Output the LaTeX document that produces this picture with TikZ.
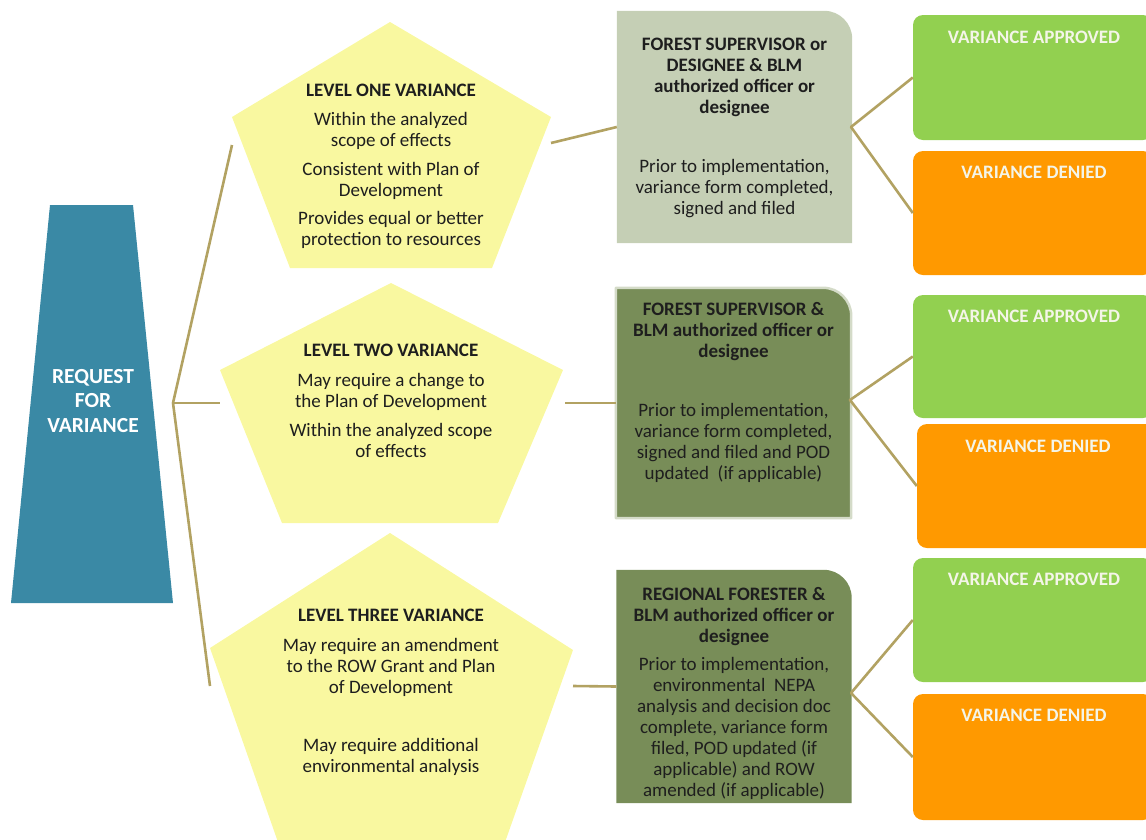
\documentclass[tikz,border=0pt]{standalone}
\usepackage{fontspec}
\setmainfont{Carlito}
\usetikzlibrary{calc}

\definecolor{reqblue}{RGB}{58,137,165}
\definecolor{pentyellow}{RGB}{249,248,160}
\definecolor{sagefill}{RGB}{197,207,181}
\definecolor{olivefill}{RGB}{120,141,88}
\definecolor{oliveedge}{RGB}{212,219,200}
\definecolor{okgreen}{RGB}{146,208,80}
\definecolor{nogo}{RGB}{255,153,0}
\definecolor{linkcol}{RGB}{178,162,98}
\definecolor{inktext}{RGB}{30,30,30}
\definecolor{paletext}{RGB}{244,245,232}

\begin{document}
\begin{tikzpicture}[x=1pt,y=-1pt,line join=round,
  link/.style={draw=linkcol,line width=2.6pt},
  body/.style={align=center,inner sep=0pt,text=inktext,font=\fontsize{19}{21}\selectfont},
  pentxt/.style={body},
  boxtxt/.style={body},
  frame/.style={draw=none,inner sep=0pt,minimum width=235pt},
  outcome/.style={rectangle,rounded corners=10pt,inner sep=0pt,minimum width=240pt},
  outlabel/.style={inner sep=0pt,text=paletext,font=\bfseries\fontsize{19}{21}\selectfont},
]
\useasboundingbox (0,0) rectangle (1146,839);

% request block
\fill[reqblue] (50,205) -- (133,205) -- (173,603) -- (11,603) -- cycle;
\node[inner sep=0pt,align=center,text=white,font=\bfseries\fontsize{21.5}{24.5}\selectfont] (req) at (93,401) {REQUEST\\FOR\\VARIANCE};
\coordinate (hub) at (173,403);

% level pentagons
\fill[pentyellow] (390,22) -- (551,117) -- (492,268) -- (290,268) -- (232,117) -- cycle;
\fill[pentyellow] (391,283) -- (563,370) -- (498,523) -- (282,523) -- (220,370) -- cycle;
\fill[pentyellow] (390,533) -- (573,650) -- (504,845) -- (279,845) -- (210,648) -- cycle;

\coordinate (p1l) at (232,145);
\coordinate (p1r) at (551,143);
\coordinate (p2l) at (220,403);
\coordinate (p2r) at (565,403);
\coordinate (p3l) at (210,686);
\coordinate (p3r) at (573,686);

\node[pentxt] (l1) at (391,166) {\textbf{LEVEL ONE VARIANCE}\\[8pt]
  Within the analyzed\\scope of effects\\[8pt]
  Consistent with Plan of\\Development\\[7pt]
  Provides equal or better\\protection to resources};
\node[pentxt] (l2) at (391,401) {\textbf{LEVEL TWO VARIANCE}\\[9pt]
  May require a change to\\the Plan of Development\\[8pt]
  Within the analyzed scope\\of effects};
\node[pentxt] (l3) at (391,692) {\textbf{LEVEL THREE VARIANCE}\\[9pt]
  May require an amendment\\to the ROW Grant and Plan\\of Development\\[37pt]
  May require additional\\environmental analysis};

% authority boxes
\node[frame,minimum height=232pt] (b1) at (734.5,127) {};
\node[frame,minimum height=230pt] (b2) at (733.5,403) {};
\node[frame,minimum height=233pt] (b3) at (734,686.5) {};

\fill[sagefill] (b1.south west) -- (b1.north west) -- ([xshift=-28pt]b1.north east)
  arc[start angle=90,end angle=0,radius=28pt] -- (b1.south east) -- cycle;
\filldraw[fill=olivefill,draw=oliveedge,line width=2.5pt] (b2.south west) -- (b2.north west) -- ([xshift=-28pt]b2.north east)
  arc[start angle=90,end angle=0,radius=28pt] -- (b2.south east) -- cycle;
\fill[olivefill] (b3.south west) -- (b3.north west) -- ([xshift=-28pt]b3.north east)
  arc[start angle=90,end angle=0,radius=28pt] -- (b3.south east) -- cycle;

\node[boxtxt] (t1) at (734.5,128) {\textbf{FOREST SUPERVISOR or}\\\textbf{DESIGNEE \& BLM}\\
  \textbf{authorized officer or}\\\textbf{designee}\\[38pt]
  Prior to implementation,\\variance form completed,\\signed and filed};
\node[boxtxt] (t2) at (733.5,392) {\textbf{FOREST SUPERVISOR \&}\\\textbf{BLM authorized officer or}\\
  \textbf{designee}\\[38pt]
  Prior to implementation,\\variance form completed,\\signed and filed and POD\\updated\ \ (if applicable)};
\node[boxtxt] (t3) at (734,693) {\textbf{REGIONAL FORESTER \&}\\\textbf{BLM authorized officer or}\\
  \textbf{designee}\\[7pt]
  Prior to implementation,\\environmental\ \ NEPA\\analysis and decision doc\\complete, variance form\\
  filed, POD updated (if\\applicable) and ROW\\amended (if applicable)};

% outcome boxes
\node[outcome,fill=okgreen,minimum height=125pt] (a1) at (1033,77.5) {};
\node[outcome,fill=nogo,minimum height=124pt] (d1) at (1033,213) {};
\node[outcome,fill=okgreen,minimum height=123pt] (a2) at (1033,356.5) {};
\node[outcome,fill=nogo,minimum height=124pt] (d2) at (1037,486) {};
\node[outcome,fill=okgreen,minimum height=124pt] (a3) at (1033,620) {};
\node[outcome,fill=nogo,minimum height=126pt] (d3) at (1033,757) {};

\node[outlabel] at (1034,37) (a1t) {VARIANCE APPROVED};
\node[outlabel] at (1034,172) (d1t) {VARIANCE DENIED};
\node[outlabel] at (1034,316) (a2t) {VARIANCE APPROVED};
\node[outlabel] at (1038,446) (d2t) {VARIANCE DENIED};
\node[outlabel] at (1034,579) (a3t) {VARIANCE APPROVED};
\node[outlabel] at (1034,715) (d3t) {VARIANCE DENIED};

% fork points on the authority boxes
\coordinate (f1) at (851,127);
\coordinate (f2) at (850,400);
\coordinate (f3) at (851,693);

% connectors
\draw[link] (p1l) -- (hub) -- (p3l);
\draw[link] (hub) -- (p2l);
\draw[link] (p1r) -- (b1.west);
\draw[link] (p2r) -- (b2.west);
\draw[link] (p3r) -- (b3.west);
\draw[link] (a1.west) -- (f1) -- (d1.west);
\draw[link] (a2.west) -- (f2) -- (d2.west);
\draw[link] (a3.west) -- (f3) -- (d3.west);
\end{tikzpicture}
\end{document}
